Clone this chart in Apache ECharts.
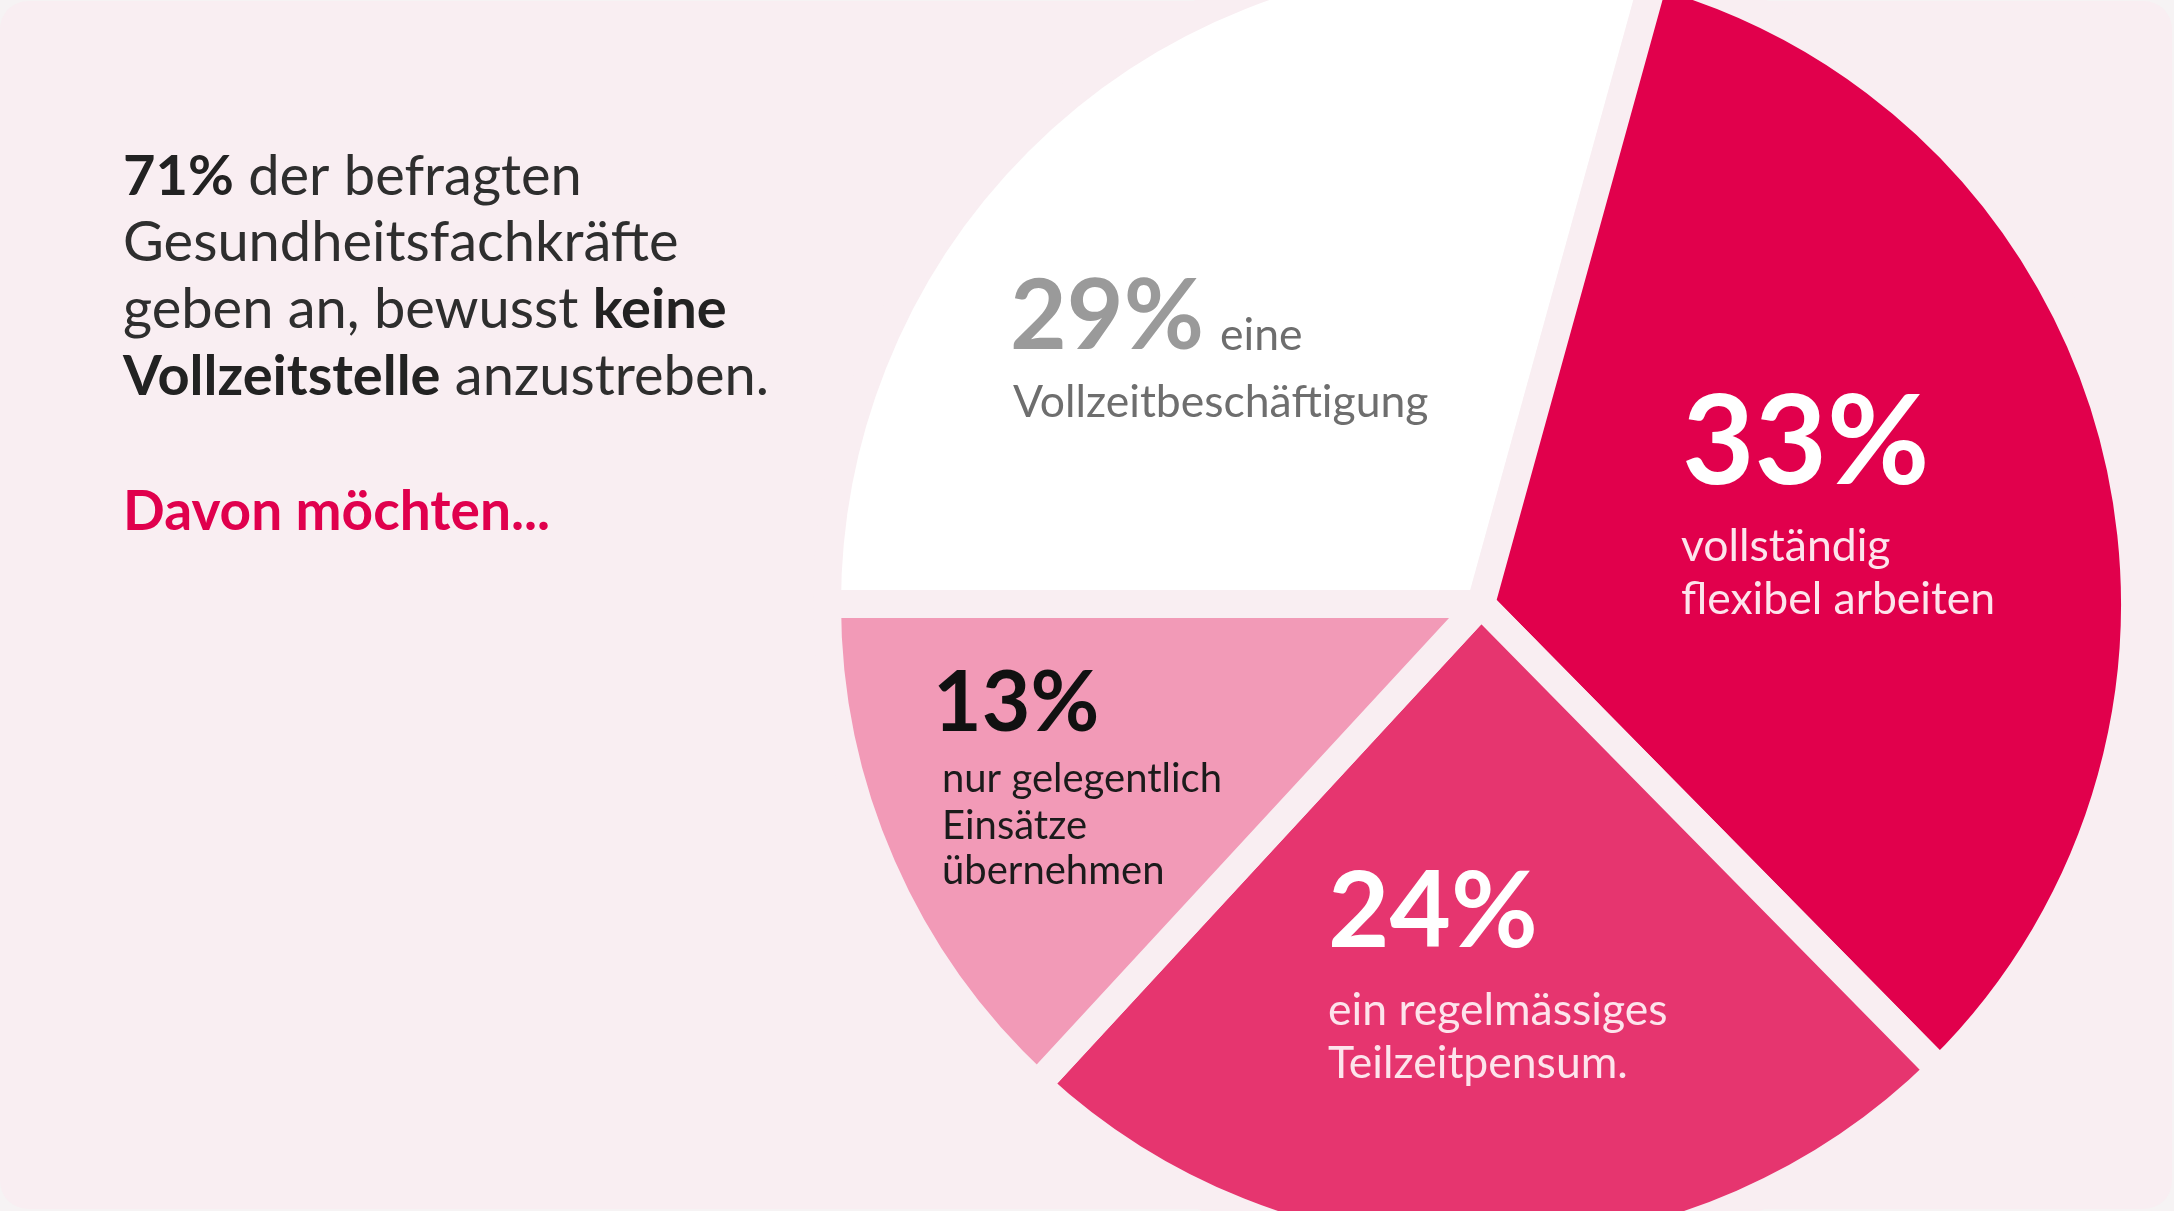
<!DOCTYPE html>
<html><head><meta charset="utf-8">
<script src="https://cdn.jsdelivr.net/npm/echarts@6/dist/echarts.min.js"></script>
<style>html,body{margin:0;padding:0;background:#f6f3f4;} #c{width:2174px;height:1211px;}</style>
</head><body><div id="c"></div>
<script>
// ---- data ----
const categories = ['eine Vollzeitbeschäftigung', 'vollständig flexibel arbeiten', 'ein regelmässiges Teilzeitpensum.', 'nur gelegentlich Einsätze übernehmen'];
const values = [29, 33, 24, 13];
const labelLines = [
  ['eine', 'Vollzeitbeschäftigung'],
  ['vollständig', 'flexibel arbeiten'],
  ['ein regelmässiges', 'Teilzeitpensum.'],
  ['nur gelegentlich', 'Einsätze', 'übernehmen']
];
const headlineLines = ['{b|71%} der befragten', 'Gesundheitsfachkräfte', 'geben an, bewusst {b|keine}', '{b|Vollzeitstelle} anzustreben.'];
const subhead = 'Davon möchten...';

// ---- styles ----
const sliceColors = ['#ffffff', '#e1004c', '#e6356f', '#f29ab7'];
const CARD = '#f9eef2';
const FONT = 'Lato, "Noto Sans", sans-serif';

const chart = echarts.init(document.getElementById('c'));

function txt(x, baseline, text, size, weight, color, rich) {
  const el = {
    type: 'text', z: 100, x: x, y: baseline - size * 0.35, silent: true,
    style: { text: text, fill: color, font: weight + ' ' + size + 'px ' + FONT, verticalAlign: 'middle', align: 'left' }
  };
  if (rich) el.style.rich = rich;
  return el;
}

const graphics = [
  { type: 'rect', z: -10, silent: true, shape: { x: 0, y: 1, width: 2172, height: 1208, r: 28 }, style: { fill: CARD } }
];

// headline
const headBase = [197, 263, 330, 397];
const richHead = { b: { fontFamily: FONT, fontWeight: 'bold', fontSize: 56, fill: '#222222' } };
headlineLines.forEach((l, i) => graphics.push(txt(123, headBase[i], l, 56, 'normal', '#2e2e2e', richHead)));
graphics.push(txt(123, 532, subhead, 55, 'bold', '#e0004d'));

// slice labels
const lab = [
  { x: 1010, b: 352, s: 98, c: '#9a9a9a' },
  { x: 1682, b: 487, s: 125, c: '#ffffff' },
  { x: 1328, b: 950, s: 106, c: '#ffffff' },
  { x: 933, b: 733, s: 84, c: '#111111' }
];
const SUB = 44.5;
// 29%
graphics.push(txt(lab[0].x, lab[0].b, values[0] + '%', lab[0].s, 'bold', lab[0].c));
graphics.push(txt(1220, 351, labelLines[0][0], SUB, 'normal', '#6e6e6e'));
graphics.push(txt(1013, 418, labelLines[0][1], SUB, 'normal', '#6e6e6e'));
// 33%
graphics.push(txt(lab[1].x, lab[1].b, values[1] + '%', lab[1].s, 'bold', lab[1].c));
[562, 615].forEach((b, i) => graphics.push(txt(1681, b, labelLines[1][i], SUB, 'normal', '#fde4ec')));
// 24%
graphics.push(txt(lab[2].x, lab[2].b, values[2] + '%', lab[2].s, 'bold', lab[2].c));
[1026, 1079].forEach((b, i) => graphics.push(txt(1328, b, labelLines[2][i], SUB, 'normal', '#fde4ec')));
// 13%
graphics.push(txt(lab[3].x, lab[3].b, values[3] + '%', lab[3].s, 'bold', lab[3].c));
[793, 840, 885].forEach((b, i) => graphics.push(txt(942, b, labelLines[3][i], 40, 'normal', '#1b1b1b')));

chart.setOption({
  backgroundColor: '#f6f3f4',
  animation: false,
  graphic: graphics,
  series: [{
    type: 'pie',
    center: [1481, 604],
    radius: 654,
    startAngle: 180,
    clockwise: true,
    silent: true,
    label: { show: false },
    labelLine: { show: false },
    emphasis: { disabled: true },
    itemStyle: { borderColor: CARD, borderWidth: 28, borderJoin: 'round' },
    data: values.map((v, i) => ({ value: v, name: categories[i], itemStyle: { color: sliceColors[i] } }))
  }]
});
</script></body></html>
